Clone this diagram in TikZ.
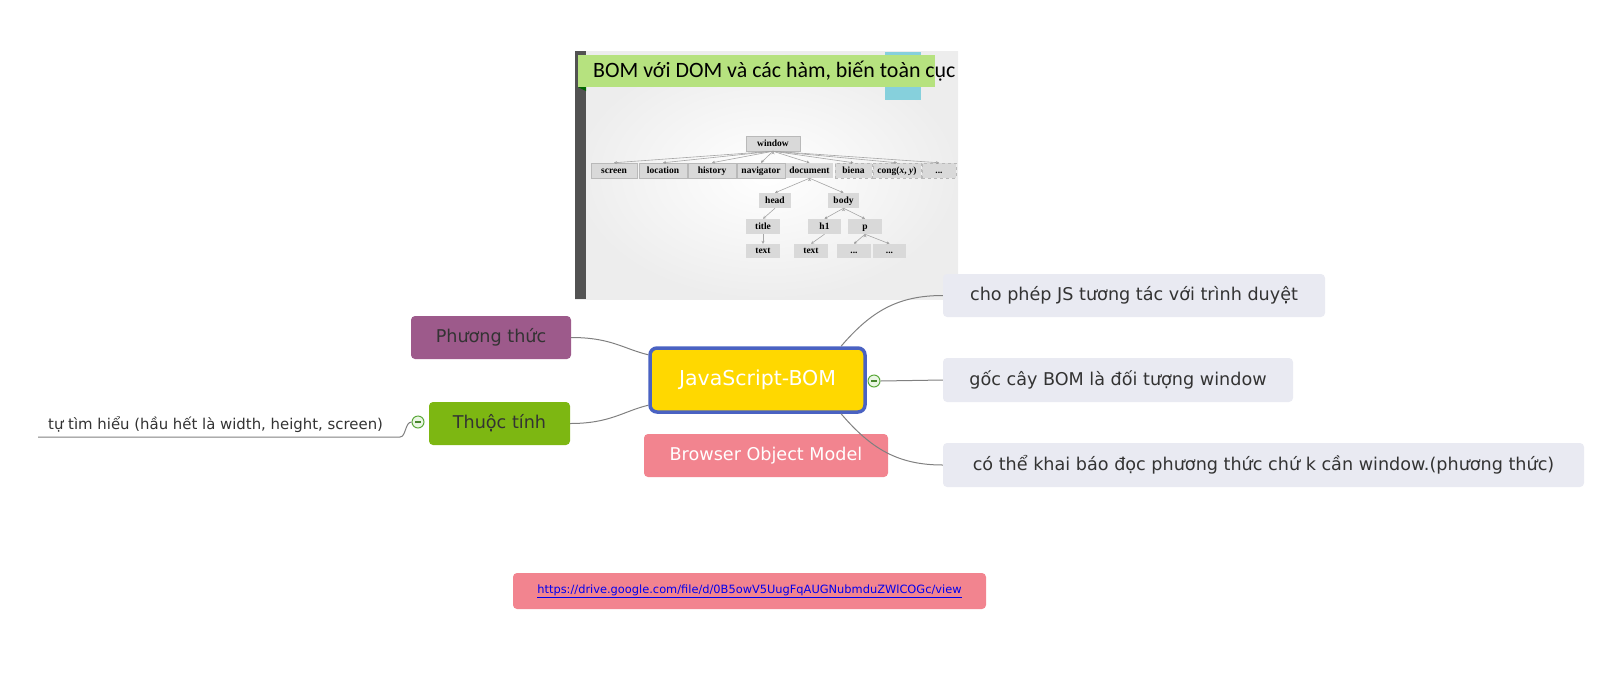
\documentclass[tikz,border=0pt]{standalone}
\usepackage{fontspec}
\setmainfont{DejaVu Sans}
\newfontfamily\slidefont{Carlito}
\newfontfamily\treefont{Liberation Serif}
\usetikzlibrary{positioning}
\usetikzlibrary{arrows.meta}

\definecolor{bomyellow}{HTML}{FFD800}
\definecolor{bomblue}{HTML}{4A62C2}
\definecolor{bompink}{HTML}{F2848F}
\definecolor{bompurple}{HTML}{9D5A8B}
\definecolor{bomgreen}{HTML}{7DB712}
\definecolor{notegray}{HTML}{E9EAF2}
\definecolor{linegray}{HTML}{808080}
\definecolor{textgray}{HTML}{333333}
\definecolor{foldgreen}{HTML}{5AA83A}
\definecolor{foldfill}{HTML}{EAF6E4}
\definecolor{slidegreen}{HTML}{B6E27F}
\definecolor{slideblue}{HTML}{86D0DC}
\definecolor{treegray}{HTML}{D9D9D9}
\definecolor{linkblue}{HTML}{0000EE}

\tikzset{
  topic/.style={rounded corners=4pt, minimum height=43pt, inner sep=0pt,
    text=textgray, font=\fontsize{17.6}{21}\selectfont},
  note/.style={topic, fill=notegray},
  conn/.style={draw=linegray, line width=1pt},
  fold/.style={circle, draw=foldgreen, fill=foldfill, line width=1pt,
    minimum size=12pt, inner sep=0pt,
    path picture={\draw[foldgreen!80!black, line width=1.2pt]
      ([xshift=3pt]path picture bounding box.west) --
      ([xshift=-3pt]path picture bounding box.east);}},
  tbox/.style={fill=treegray, minimum height=15pt, inner sep=0pt,
    text height=6.5pt, text depth=1.5pt,
    font=\treefont\bfseries\fontsize{9.5}{11}\selectfont},
  tline/.style={draw=gray!55, line width=0.5pt},
  tedge/.style={draw=gray!70, line width=0.6pt, -{Stealth[length=3pt, width=3pt]}}
}

\begin{document}
\begin{tikzpicture}[x=1pt, y=-1pt]
  \useasboundingbox (0,0) rectangle (1608,673);

  % slide picture
  \shade[inner color=white, outer color=black!7] (575,51) rectangle (958,299);
  \fill[black!68] (575,51) rectangle (586,299);
  \fill[slideblue] (885,52) rectangle (921,100);
  \fill[slidegreen] (578,55) rectangle (935,87);
  \fill[green!40!black] (578,87) -- (586,87) -- (586,91) -- cycle;
  \node[anchor=west, inner sep=0pt, font=\slidefont\fontsize{21.9}{26}\selectfont]
    (slidetitle) at (593,71) {BOM với DOM và các hàm, biến toàn cục};

  \node[tbox, tline, minimum width=54pt] (window) at (773,143.5) {window};
  \node[tbox, tline, minimum width=46pt] (screen) at (614,170.5) {screen};
  \node[tbox, tline, minimum width=48pt] (location) at (663,170.5) {location};
  \node[tbox, tline, minimum width=48pt] (history) at (712,170.5) {history};
  \node[tbox, tline, minimum width=48pt] (navigator) at (761,170.5) {navigator};
  \node[tbox, minimum width=47pt] (document) at (809.5,170.5) {document};
  \node[tbox, tline, dashed, minimum width=37pt] (biena) at (853.5,170.5) {biena};
  \node[tbox, tline, dashed, minimum width=48pt] (cong) at (897,170.5) {cong(\textit{x}, \textit{y})};
  \node[tbox, tline, dashed, minimum width=34pt] (more) at (939,170.5) {...};
  \node[tbox, minimum width=32pt] (head) at (775,200.5) {head};
  \node[tbox, minimum width=31pt] (body) at (843.5,200.5) {body};
  \node[tbox, minimum width=34pt] (title) at (763,226.5) {title};
  \node[tbox, minimum width=33pt] (h1) at (824.5,226.5) {h1};
  \node[tbox, minimum width=34pt] (p) at (865,226.5) {p};
  \node[tbox, minimum width=34pt, minimum height=14pt] (titletext) at (763,251) {text};
  \node[tbox, minimum width=34pt, minimum height=14pt] (h1text) at (811,251) {text};
  \node[tbox, minimum width=34pt, minimum height=14pt] (pdotsa) at (854,251) {...};
  \node[tbox, minimum width=33pt, minimum height=14pt] (pdotsb) at (889.5,251) {...};

  \draw[tedge] (window.south) edge (screen.north) edge (location.north)
    edge (history.north) edge (navigator.north) edge (document.north)
    edge (biena.north) edge (cong.north) edge (more.north);
  \draw[tedge] (document.south) edge (head.north) edge (body.north);
  \draw[tedge] (head.south) -- (title.north);
  \draw[tedge] (title.south) -- (titletext.north);
  \draw[tedge] (body.south) edge (h1.north) edge (p.north);
  \draw[tedge] (h1.south) -- (h1text.north);
  \draw[tedge] (p.south) edge (pdotsa.north) edge (pdotsb.north);

  % mind map
  \node[topic, draw=bomblue, line width=3.5pt, fill=bomyellow, rounded corners=7pt,
    minimum width=215pt, minimum height=64pt, text=white,
    font=\fontsize{20.5}{24}\selectfont] (bom) at (757.5,380) {JavaScript-BOM};
  \node[topic, fill=bompink, text=white, minimum width=244pt] (bomname) at (766,455.5) {Browser Object Model};
  \node[topic, fill=bompurple, minimum width=160pt] (phuong) at (491,337.5) {Phương thức};
  \node[topic, fill=bomgreen, minimum width=141pt] (thuoc) at (499.5,423.5) {Thuộc tính};
  \node[note, minimum width=382pt] (note1) at (1134,295.5) {cho phép JS tương tác với trình duyệt};
  \node[note, minimum width=350pt, minimum height=44pt] (note2) at (1118,380) {gốc cây BOM là đối tượng window};
  \node[note, minimum width=641pt, minimum height=44pt] (note3) at (1263.5,465) {có thể khai báo đọc phương thức chứ k cần window.(phương thức)};
  \node[fold] (fold1) at (874,381) {};
  \node[fold] (fold2) at (418,422) {};
  \node[anchor=base west, inner sep=0pt, text=textgray, font=\fontsize{14.9}{18}\selectfont]
    (tutim) at (48,429) {tự tìm hiểu (hầu hết là width, height, screen)};
  \coordinate (tutimL) at (38,437);
  \coordinate (tutimR) at (400,437);
  \node[topic, fill=bompink, minimum width=473pt, minimum height=36pt, text=linkblue,
    font=\fontsize{11.4}{14}\selectfont] (link) at (749.5,591)
    {\underline{https://drive.google.com/file/d/0B5owV5UugFqAUGNubmduZWlCOGc/view}};

  \draw[conn] (phuong.east) .. controls +(40,0) and +(-25,-6) .. (bom.167);
  \draw[conn] (thuoc.east) .. controls +(40,0) and +(-25,6) .. (bom.193);
  \draw[conn] (bom.22) .. controls +(30,-35) and +(-45,0) .. (note1.west);
  \draw[conn] (bom.-22) .. controls +(30,35) and +(-45,0) .. (note3.west);
  \draw[conn] (fold1.east) -- (note2.west);
  \draw[conn] (tutimL) -- (tutimR) .. controls (406,437) and (405,422) .. (fold2.west);
\end{tikzpicture}
\end{document}
